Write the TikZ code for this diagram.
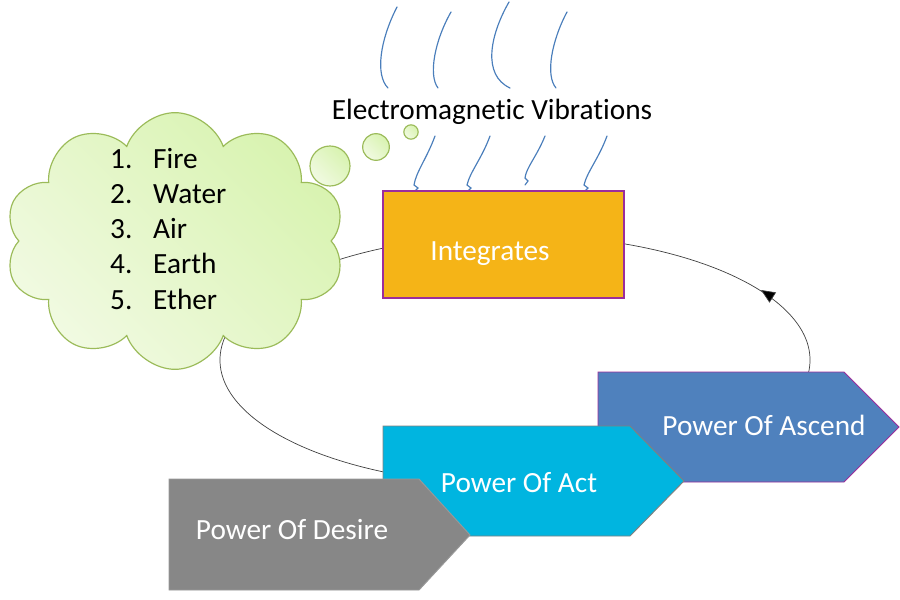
\documentclass[tikz,border=0pt]{standalone}
\usepackage{fontspec}
\setmainfont{Carlito}[Ligatures={NoCommon}]
\usetikzlibrary{shapes.symbols,shapes.geometric,arrows.meta}
\definecolor{cloudedge}{HTML}{9BBB59}
\definecolor{cloudlight}{HTML}{F1FAE2}
\definecolor{clouddark}{HTML}{D8F3B0}
\definecolor{wave}{HTML}{4A7EBB}
\definecolor{intfill}{HTML}{F5B417}
\definecolor{intedge}{HTML}{9B2D9B}
\definecolor{desire}{HTML}{878787}
\definecolor{act}{HTML}{00B5E0}
\definecolor{ascend}{HTML}{4F81BD}
\definecolor{loopline}{HTML}{404040}
\begin{document}
\begin{tikzpicture}[x=0.03cm,y=-0.03cm,
  txt/.style={font=\fontsize{25}{30}\selectfont, inner sep=0pt},
  wtxt/.style={txt, text=white},
  wavy/.style={draw=wave, line width=1pt, line cap=round},
  bubble/.style={circle, draw=cloudedge, line width=1pt, top color=clouddark, bottom color=cloudlight, shading angle=-45, inner sep=0pt},
  chev/.style={line width=0.8pt, line join=miter}]
\useasboundingbox (0,0) rectangle (900,600);
% loop ellipse
\coordinate (lc) at (515,360);
\coordinate (tip) at (761,290);
\draw[draw=loopline, line width=0.6pt, fill=white] (lc) ellipse [x radius=8.85cm, y radius=3.75cm];
\draw[draw=loopline, line width=0.6pt, -{Triangle[length=4.2mm,width=3.6mm,fill=black]}] (tip) ++(-32.6:4.2mm) -- (tip);
% cloud
\node (cloud) [cloud, cloud puffs=10, cloud puff arc=140, cloud ignores aspect, minimum width=10.2cm, minimum height=7.7cm, draw=cloudedge, line width=1pt, top color=clouddark, bottom color=cloudlight, shading angle=-45, inner sep=0pt] at (175,241) {};
\node (b1) [bubble, minimum size=1.2cm] at (330,166) {};
\node (b2) [bubble, minimum size=0.8cm] at (376,147) {};
\node (b3) [bubble, minimum size=0.43cm] at (411,132) {};
% list
\node (n1) [txt, anchor=base west] at (110,169) {1.};
\node (n2) [txt, anchor=base west] at (110,204) {2.};
\node (n3) [txt, anchor=base west] at (110,239) {3.};
\node (n4) [txt, anchor=base west] at (110,274) {4.};
\node (n5) [txt, anchor=base west] at (110,309) {5.};
\node (w1) [txt, anchor=base west] at (153,169) {Fire};
\node (w2) [txt, anchor=base west] at (153,204) {Water};
\node (w3) [txt, anchor=base west] at (153,239) {Air};
\node (w4) [txt, anchor=base west] at (153,274) {Earth};
\node (w5) [txt, anchor=base west] at (153,309) {Ether};
% waves above
\draw[wavy] (397,7) .. controls (380,40) and (375,75) .. (388,88);
\draw[wavy] (451,12) .. controls (435,40) and (428,75) .. (438,88);
\draw[wavy] (509,2) .. controls (490,35) and (482,75) .. (510,88);
\draw[wavy] (567,12) .. controls (552,40) and (545,75) .. (556,88);
% title
\node (em) [txt, anchor=base] at (492,120) {Electromagnetic Vibrations};
% waves below
\draw[wavy] (435,136) .. controls (427,158) and (416,172) .. (414,185) -- (418,188) -- (414,192);
\draw[wavy] (490,136) .. controls (482,158) and (470,172) .. (467,185) -- (471,188) -- (467,192);
\draw[wavy] (545,136) .. controls (537,156) and (526,168) .. (525,178) -- (528,181) -- (525,185);
\draw[wavy] (607,136) .. controls (599,158) and (587,172) .. (584,185) -- (588,188) -- (584,192);
% integrates box
\node (box) [rectangle, draw=intedge, line width=0.9pt, fill=intfill, minimum width=7.23cm, minimum height=3.21cm, inner sep=0pt] at (503.5,244.5) {};
\node (boxtxt) [wtxt] at (490,254) {Integrates};
% chevrons
\draw[chev, fill=ascend, draw=intedge] (598,372) -- (844,372) -- (899,427) -- (844,482) -- (598,482) -- cycle;
\node (asc) [wtxt] at (764,425) {Power Of Ascend};
\draw[chev, fill=act, draw=gray] (383,426) -- (630,426) -- (684,481) -- (630,536) -- (383,536) -- cycle;
\node (actt) [wtxt] at (519,483) {Power Of Act};
\draw[chev, fill=desire, draw=gray!80] (169,479) -- (419,479) -- (470,535) -- (419,590) -- (169,590) -- cycle;
\node (des) [wtxt] at (292,530) {Power Of Desire};
\end{tikzpicture}
\end{document}
